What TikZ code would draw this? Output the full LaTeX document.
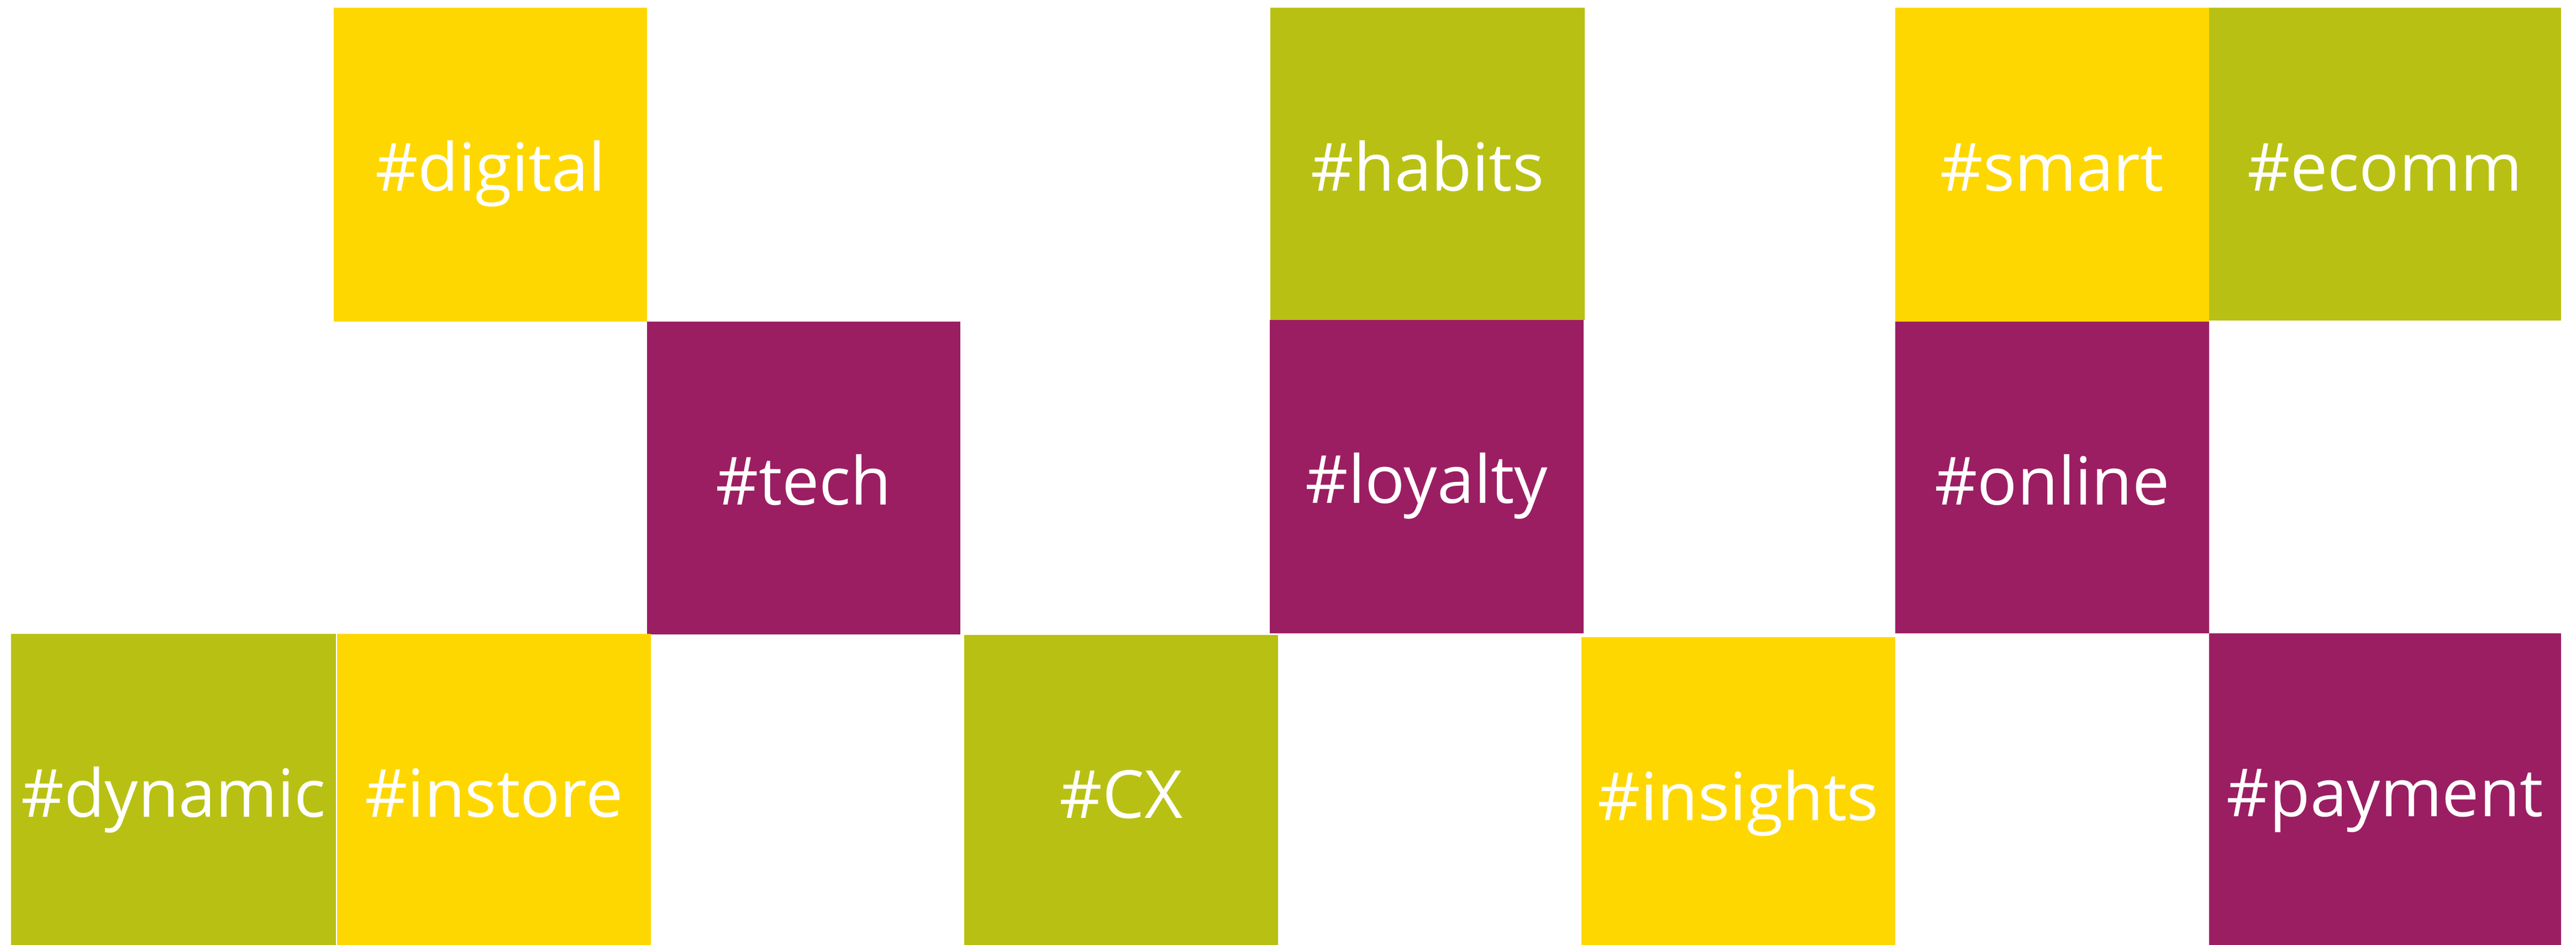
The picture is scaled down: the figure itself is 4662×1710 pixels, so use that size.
\documentclass[tikz,border=0pt]{standalone}
\usepackage{fontspec}
\setmainfont{Open Sans}
\definecolor{tagyellow}{RGB}{254,215,0}
\definecolor{taggreen}{RGB}{184,193,19}
\definecolor{tagpurple}{RGB}{155,30,99}
\tikzset{
  tagbox/.style={anchor=north west, inner sep=0pt, outer sep=0pt, text=white,
    font=\fontsize{120}{144}\selectfont, text height=331pt, text depth=235pt},
}
\newcommand{\tagnode}[7]{% name, colour, left, top, right, bottom, text
  \pgfmathsetmacro{\tw}{#5-#3}%
  \node[tagbox, fill=#2, minimum width=\tw pt, text depth=#6pt-#4pt-331pt] (#1) at (#3,-#4) {#7};}
\begin{document}
\begin{tikzpicture}[x=1pt,y=1pt]
\useasboundingbox[fill=white] (0,0) rectangle (4662,-1710);
\tagnode{digital}{tagyellow}{604}{14}{1171}{582}{\#digital}
\tagnode{tech}{tagpurple}{1171}{582}{1738}{1148}{\#tech}
\tagnode{dynamic}{taggreen}{20}{1147}{608}{1710}{\#dynamic}
\tagnode{instore}{tagyellow}{610}{1147}{1178}{1710}{\#instore}
\tagnode{cx}{taggreen}{1745}{1149}{2313}{1710}{\#CX}
\tagnode{habits}{taggreen}{2299}{14}{2868}{579}{\#habits}
\tagnode{loyalty}{tagpurple}{2298}{579}{2866}{1146}{\#loyalty}
\tagnode{insights}{tagyellow}{2862}{1153}{3430}{1710}{\#insights}
\tagnode{smart}{tagyellow}{3430}{14}{3998}{582}{\#smart}
\tagnode{ecomm}{taggreen}{3998}{14}{4635}{580}{\#ecomm}
\tagnode{online}{tagpurple}{3430}{582}{3998}{1146}{\#online}
\tagnode{payment}{tagpurple}{3998}{1146}{4635}{1710}{\#payment}
\end{tikzpicture}
\end{document}
